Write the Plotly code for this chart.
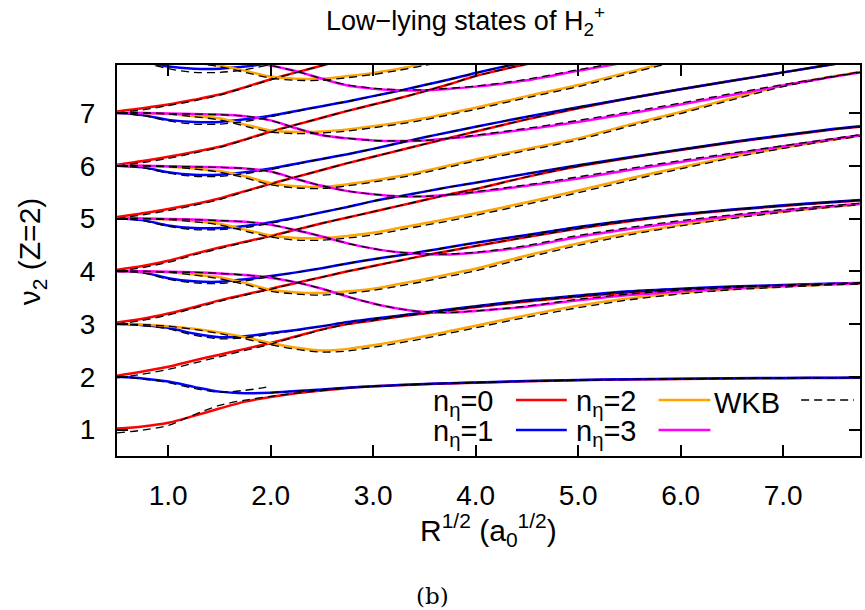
import plotly.graph_objects as go

# Common abscissa grid: R^(1/2) in a0^(1/2)
X = [0.5, 0.75, 1.0, 1.25, 1.5, 1.75, 2.0, 2.25, 2.5, 2.75, 3.0, 3.25,
     3.5, 3.75, 4.0, 4.5, 5.0, 5.5, 6.0, 6.5, 7.0, 7.5, 7.75]

# n_eta = 0 states (start at nu2 = 1..7)
R1 = [1.02, 1.06, 1.13, 1.26, 1.40, 1.53, 1.62, 1.69, 1.74, 1.79, 1.82, 1.84, 1.86, 1.875, 1.89, 1.915, 1.935, 1.95, 1.96, 1.97, 1.975, 1.98, 1.982]
R2 = [2.02, 2.10, 2.19, 2.31, 2.42, 2.53, 2.64, 2.77, 2.90, 3.00, 3.07, 3.14, 3.20, 3.26, 3.32, 3.43, 3.52, 3.60, 3.66, 3.70, 3.73, 3.76, 3.77]
R3 = [3.03, 3.10, 3.20, 3.32, 3.45, 3.56, 3.67, 3.78, 3.89, 4.00, 4.10, 4.20, 4.30, 4.39, 4.48, 4.65, 4.81, 4.95, 5.07, 5.16, 5.24, 5.31, 5.34]
R4 = [4.03, 4.10, 4.20, 4.33, 4.45, 4.56, 4.67, 4.79, 4.91, 5.02, 5.13, 5.24, 5.35, 5.46, 5.56, 5.79, 5.99, 6.15, 6.30, 6.44, 6.57, 6.69, 6.74]
R5 = [5.03, 5.10, 5.18, 5.27, 5.38, 5.52, 5.66, 5.79, 5.92, 6.05, 6.17, 6.29, 6.41, 6.53, 6.65, 6.88, 7.09, 7.28, 7.45, 7.61, 7.77, 7.93, 8.00]
R6 = [6.02, 6.09, 6.17, 6.26, 6.36, 6.50, 6.65, 6.78, 6.91, 7.04, 7.16, 7.28, 7.41, 7.55, 7.70, 7.93, 8.15]
R7 = [7.03, 7.09, 7.16, 7.25, 7.35, 7.49, 7.64, 7.77, 7.90, 8.03]

# n_eta = 1 states (start at nu2 = 2..8)
B2 = [2.00, 1.97, 1.91, 1.81, 1.72, 1.69, 1.70, 1.73, 1.76, 1.795, 1.82, 1.845, 1.865, 1.88, 1.895, 1.92, 1.94, 1.955, 1.965, 1.975, 1.98, 1.985, 1.987]
B3 = [3.00, 2.98, 2.93, 2.82, 2.75, 2.77, 2.83, 2.89, 2.96, 3.04, 3.10, 3.16, 3.22, 3.28, 3.34, 3.45, 3.54, 3.62, 3.67, 3.71, 3.74, 3.77, 3.78]
B4 = [4.00, 3.98, 3.87, 3.81, 3.80, 3.85, 3.91, 3.98, 4.06, 4.15, 4.23, 4.30, 4.38, 4.46, 4.54, 4.69, 4.84, 4.97, 5.08, 5.17, 5.25, 5.32, 5.35]
B5 = [5.00, 4.97, 4.87, 4.82, 4.82, 4.86, 4.93, 5.02, 5.12, 5.22, 5.33, 5.42, 5.51, 5.60, 5.68, 5.85, 6.01, 6.16, 6.31, 6.45, 6.58, 6.70, 6.75]
B6 = [6.00, 5.97, 5.88, 5.83, 5.83, 5.88, 5.95, 6.04, 6.13, 6.22, 6.32, 6.43, 6.54, 6.64, 6.74, 6.93, 7.11, 7.28, 7.45, 7.61, 7.77, 7.93, 8.01]
B7 = [7.00, 6.96, 6.87, 6.83, 6.83, 6.88, 6.95, 7.04, 7.13, 7.22, 7.32, 7.42, 7.53, 7.64, 7.76, 7.97, 8.15]
B8 = [8.00, 7.97, 7.88, 7.84, 7.84, 7.88, 7.95, 8.04]

# n_eta = 2 states (start at nu2 = 3..8)
O3 = [3.00, 2.99, 2.96, 2.91, 2.84, 2.75, 2.64, 2.55, 2.50, 2.53, 2.60, 2.68, 2.77, 2.87, 2.97, 3.17, 3.35, 3.49, 3.59, 3.66, 3.71, 3.75, 3.765]
O4 = [4.00, 4.00, 3.98, 3.94, 3.89, 3.78, 3.65, 3.60, 3.59, 3.62, 3.67, 3.76, 3.85, 3.95, 4.05, 4.30, 4.53, 4.72, 4.88, 5.02, 5.13, 5.23, 5.27]
O5 = [5.00, 5.00, 4.98, 4.95, 4.90, 4.79, 4.68, 4.63, 4.63, 4.67, 4.73, 4.82, 4.91, 5.00, 5.10, 5.31, 5.53, 5.76, 5.97, 6.17, 6.34, 6.50, 6.57]
O6 = [6.00, 6.00, 5.98, 5.95, 5.90, 5.80, 5.67, 5.61, 5.60, 5.65, 5.72, 5.80, 5.90, 6.01, 6.12, 6.32, 6.52, 6.78, 7.02, 7.28, 7.52, 7.70, 7.78]
O7 = [7.00, 7.00, 6.98, 6.94, 6.90, 6.78, 6.67, 6.64, 6.65, 6.69, 6.75, 6.82, 6.90, 7.00, 7.10, 7.32, 7.53, 7.78, 8.02]
O8 = [8.00, 8.00, 7.98, 7.95, 7.90, 7.80, 7.69, 7.65, 7.65, 7.70, 7.76, 7.84, 7.93, 8.03]

# n_eta = 3 states (start at nu2 = 4..8)
M4 = [4.00, 4.00, 3.99, 3.98, 3.96, 3.93, 3.88, 3.79, 3.67, 3.52, 3.39, 3.29, 3.23, 3.22, 3.25, 3.33, 3.45, 3.55, 3.62, 3.68, 3.72, 3.76, 3.775]
M5 = [5.00, 5.00, 4.99, 4.98, 4.96, 4.94, 4.88, 4.78, 4.66, 4.53, 4.43, 4.36, 4.33, 4.32, 4.35, 4.47, 4.65, 4.80, 4.93, 5.05, 5.15, 5.24, 5.28]
M6 = [6.00, 6.00, 5.99, 5.98, 5.97, 5.95, 5.89, 5.75, 5.62, 5.52, 5.46, 5.42, 5.42, 5.45, 5.50, 5.62, 5.76, 5.92, 6.07, 6.22, 6.37, 6.51, 6.58]
M7 = [7.00, 7.00, 6.99, 6.98, 6.97, 6.94, 6.86, 6.71, 6.58, 6.52, 6.48, 6.47, 6.48, 6.52, 6.57, 6.69, 6.83, 6.99, 7.16, 7.34, 7.52, 7.69, 7.77]
M8 = [8.00, 8.00, 8.00, 7.99, 7.98, 7.96, 7.90, 7.79, 7.65, 7.52, 7.46, 7.43, 7.43, 7.46, 7.50, 7.62, 7.80, 7.97, 8.10]

# WKB estimates of the same states
R1_wkb = [0.94, 0.99, 1.08, 1.28, 1.46, 1.56, 1.63, 1.69, 1.74, 1.79, 1.82, 1.84, 1.86, 1.875, 1.89, 1.915, 1.935, 1.95, 1.96, 1.97, 1.975, 1.98, 1.982]
R2_wkb = [1.98, 2.05, 2.14, 2.26, 2.38, 2.50, 2.62, 2.76, 2.89, 3.00, 3.07, 3.14, 3.20, 3.26, 3.32, 3.43, 3.52, 3.60, 3.66, 3.70, 3.73, 3.76, 3.77]
R3_wkb = [3.00, 3.07, 3.17, 3.30, 3.43, 3.55, 3.66, 3.78, 3.89, 4.00, 4.10, 4.20, 4.30, 4.39, 4.48, 4.65, 4.81, 4.95, 5.07, 5.16, 5.24, 5.31, 5.34]
R4_wkb = [4.00, 4.07, 4.17, 4.31, 4.43, 4.55, 4.66, 4.79, 4.91, 5.02, 5.13, 5.24, 5.35, 5.46, 5.56, 5.79, 5.99, 6.15, 6.30, 6.44, 6.57, 6.69, 6.74]
R5_wkb = [5.00, 5.07, 5.15, 5.25, 5.36, 5.51, 5.65, 5.79, 5.92, 6.05, 6.17, 6.29, 6.41, 6.53, 6.65, 6.88, 7.09, 7.28, 7.45, 7.61, 7.77, 7.93, 8.00]
R6_wkb = [6.00, 6.06, 6.14, 6.24, 6.35, 6.49, 6.64, 6.78, 6.91, 7.04, 7.16, 7.28, 7.41, 7.55, 7.70, 7.93, 8.15]
R7_wkb = [7.00, 7.06, 7.14, 7.23, 7.34, 7.48, 7.63, 7.77, 7.90, 8.03]

B2_wkb_x = [0.5, 0.75, 1.0, 1.25, 1.5, 1.75, 1.9, 1.97, 1.98, 2.0, 2.25, 2.5, 2.75, 3.0, 3.5, 4.0, 5.0, 6.0, 7.0, 7.75]
B2_wkb = [2.00, 1.96, 1.89, 1.78, 1.71, 1.745, 1.785, 1.81, None, 1.70, 1.73, 1.76, 1.795, 1.82, 1.865, 1.895, 1.94, 1.965, 1.98, 1.987]
B3_wkb = [3.00, 2.97, 2.91, 2.79, 2.72, 2.74, 2.81, 2.88, 2.96, 3.04, 3.10, 3.16, 3.22, 3.28, 3.34, 3.45, 3.54, 3.62, 3.67, 3.71, 3.74, 3.77, 3.78]
B4_wkb = [4.00, 3.97, 3.85, 3.78, 3.77, 3.82, 3.90, 3.98, 4.06, 4.15, 4.23, 4.30, 4.38, 4.46, 4.54, 4.69, 4.84, 4.97, 5.08, 5.17, 5.25, 5.32, 5.35]
B5_wkb = [5.00, 4.96, 4.85, 4.79, 4.79, 4.83, 4.91, 5.01, 5.12, 5.22, 5.33, 5.42, 5.51, 5.60, 5.68, 5.85, 6.01, 6.16, 6.31, 6.45, 6.58, 6.70, 6.75]
B6_wkb = [6.00, 5.96, 5.86, 5.80, 5.80, 5.85, 5.93, 6.03, 6.13, 6.22, 6.32, 6.43, 6.54, 6.64, 6.74, 6.93, 7.11, 7.28, 7.45, 7.61, 7.77, 7.93, 8.01]
B7_wkb = [7.00, 6.95, 6.85, 6.79, 6.79, 6.84, 6.93, 7.03, 7.13, 7.22, 7.32, 7.42, 7.53, 7.64, 7.76, 7.97, 8.15]
B8_wkb = [8.00, 7.95, 7.84, 7.77, 7.77, 7.82, 7.92, 8.03]

O3_wkb = [3.00, 2.99, 2.96, 2.90, 2.82, 2.72, 2.61, 2.52, 2.47, 2.49, 2.56, 2.64, 2.73, 2.83, 2.93, 3.13, 3.31, 3.46, 3.57, 3.65, 3.70, 3.745, 3.76]
O4_wkb = [4.00, 4.00, 3.98, 3.93, 3.86, 3.75, 3.62, 3.57, 3.55, 3.58, 3.64, 3.72, 3.81, 3.91, 4.01, 4.26, 4.49, 4.69, 4.86, 5.00, 5.12, 5.22, 5.26]
O5_wkb = [5.00, 5.00, 4.98, 4.94, 4.88, 4.76, 4.65, 4.59, 4.59, 4.63, 4.69, 4.78, 4.87, 4.96, 5.06, 5.27, 5.49, 5.72, 5.94, 6.15, 6.33, 6.49, 6.56]
O6_wkb = [6.00, 6.00, 5.98, 5.94, 5.88, 5.77, 5.64, 5.58, 5.57, 5.62, 5.69, 5.77, 5.87, 5.98, 6.09, 6.29, 6.49, 6.75, 6.99, 7.25, 7.50, 7.69, 7.77]
O7_wkb = [7.00, 7.00, 6.98, 6.93, 6.87, 6.75, 6.64, 6.61, 6.62, 6.66, 6.72, 6.79, 6.87, 6.97, 7.07, 7.29, 7.50, 7.75, 8.00]
O8_wkb = [8.00, 8.00, 7.98, 7.94, 7.88, 7.77, 7.66, 7.62, 7.62, 7.67, 7.73, 7.81, 7.90, 8.00]

M4_wkb = [4.00, 4.00, 3.99, 3.98, 3.96, 3.93, 3.88, 3.79, 3.67, 3.52, 3.39, 3.29, 3.23, 3.22, 3.25, 3.34, 3.47, 3.57, 3.64, 3.69, 3.73, 3.765, 3.78]
M5_wkb = [5.00, 5.00, 4.99, 4.98, 4.96, 4.94, 4.88, 4.78, 4.66, 4.53, 4.43, 4.36, 4.33, 4.33, 4.36, 4.49, 4.68, 4.83, 4.96, 5.07, 5.17, 5.25, 5.29]
M6_wkb = [6.00, 6.00, 5.99, 5.98, 5.97, 5.95, 5.89, 5.75, 5.62, 5.52, 5.46, 5.42, 5.42, 5.45, 5.51, 5.64, 5.79, 5.95, 6.10, 6.24, 6.38, 6.52, 6.59]
M7_wkb = [7.00, 7.00, 6.99, 6.98, 6.97, 6.94, 6.86, 6.71, 6.58, 6.52, 6.48, 6.47, 6.48, 6.52, 6.58, 6.71, 6.86, 7.02, 7.19, 7.37, 7.54, 7.70, 7.78]
M8_wkb = [8.00, 8.00, 8.00, 7.99, 7.98, 7.96, 7.90, 7.79, 7.65, 7.53, 7.47, 7.44, 7.44, 7.47, 7.51, 7.64, 7.82, 7.99, 8.12]

X_TICKS = [1, 2, 3, 4, 5, 6, 7]
X_TICKTEXT = ["1.0", "2.0", "3.0", "4.0", "5.0", "6.0", "7.0"]
Y_TICKS = [1, 2, 3, 4, 5, 6, 7]

RED, BLUE, ORANGE, MAGENTA = "#ff0000", "#0000ff", "#ffa500", "#ff00ff"
FAMILIES = [
    (RED, [R1, R2, R3, R4, R5, R6, R7]),
    (BLUE, [B2, B3, B4, B5, B6, B7, B8]),
    (ORANGE, [O3, O4, O5, O6, O7, O8]),
    (MAGENTA, [M4, M5, M6, M7, M8]),
]
WKB_CURVES = [R1_wkb, R2_wkb, R3_wkb, R4_wkb, R5_wkb, R6_wkb, R7_wkb,
              B3_wkb, B4_wkb, B5_wkb, B6_wkb, B7_wkb, B8_wkb,
              O3_wkb, O4_wkb, O5_wkb, O6_wkb, O7_wkb, O8_wkb,
              M4_wkb, M5_wkb, M6_wkb, M7_wkb, M8_wkb]

FONT = "Liberation Sans, Arial, Helvetica, sans-serif"
W, H = 865, 610
L, R, T, B = 117, 3, 65, 154
WKB_DASH = "8px,5px"

fig = go.Figure()


def add_curve(xs, ys, color, width, dash=None):
    fig.add_trace(go.Scatter(
        x=xs[:len(ys)], y=ys, mode="lines", connectgaps=False,
        line=dict(color=color, width=width, dash=dash, shape="spline", smoothing=0.8),
        showlegend=False, hoverinfo="skip"))


for color, curves in FAMILIES:
    for ys in curves:
        add_curve(X, ys, color, 2.5)

add_curve(B2_wkb_x, B2_wkb, "black", 1.3, WKB_DASH)
for ys in WKB_CURVES:
    add_curve(X, ys, "black", 1.3, WKB_DASH)

axis_common = dict(
    showline=True, linewidth=2, linecolor="black", mirror="allticks",
    ticks="inside", ticklen=11, tickwidth=2, tickcolor="black",
    showgrid=False, zeroline=False,
    tickfont=dict(family=FONT, size=28, color="black"),
)
fig.update_xaxes(range=[0.5, 7.75], tickvals=X_TICKS, ticktext=X_TICKTEXT,
                 ticklabelstandoff=13, **axis_common)
fig.update_yaxes(range=[0.5, 7.91], tickvals=Y_TICKS, ticklabelstandoff=14,
                 **axis_common)

pw, ph = W - L - R, H - T - B


def px(xp):
    return (xp - L) / pw


def py(yp):
    return (H - B - yp) / ph


def text(x, y, s, size=28, xanchor="center", angle=0, family=FONT):
    fig.add_annotation(x=px(x), y=py(y), xref="paper", yref="paper", text=s,
                       showarrow=False, xanchor=xanchor, yanchor="middle",
                       textangle=angle, font=dict(family=family, size=size, color="black"))


text(466, 21, "Low\u2212lying states of H<sub>2</sub><sup>+</sup>", size=27)
text(490, 530, "R<sup>1/2</sup> (a<sub>0</sub><sup>1/2</sup>)", size=30)
text(31, 251, "\u03bd<sub>2</sub> (Z=2)", size=30, angle=-90)
text(433, 596, "(b)", size=23, family="DejaVu Serif, Liberation Serif, serif")

# key: label on the left, line sample on the right
KEY = [
    ("n<sub>\u03b7</sub>=0", RED, 497, 517, 568, 400, None),
    ("n<sub>\u03b7</sub>=1", BLUE, 497, 517, 568, 430, None),
    ("n<sub>\u03b7</sub>=2", ORANGE, 640, 660, 712, 400, None),
    ("n<sub>\u03b7</sub>=3", MAGENTA, 640, 660, 712, 430, None),
    ("WKB", "black", 784, 803, 856, 400, WKB_DASH),
]
for label, color, tx, x0, x1, yk, dash in KEY:
    text(tx, yk + 3, label, size=29, xanchor="right")
    fig.add_shape(type="line", xref="paper", yref="paper",
                  x0=px(x0), x1=px(x1), y0=py(yk), y1=py(yk),
                  line=dict(color=color, width=1.3 if dash else 2.5, dash=dash))

fig.update_layout(
    width=W, height=H, margin=dict(l=L, r=R, t=T, b=B),
    paper_bgcolor="white", plot_bgcolor="white", showlegend=False,
)

fig.write_html("out.html")
